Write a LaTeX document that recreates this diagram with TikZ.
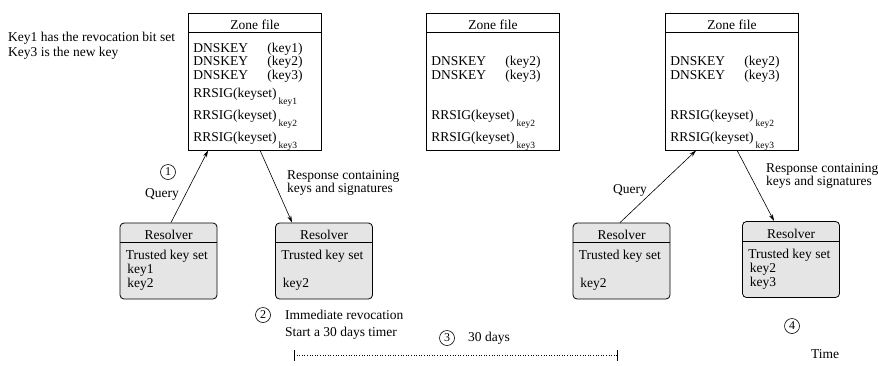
\documentclass[tikz,border=0pt]{standalone}
\usepackage{fontspec}
\setmainfont{Liberation Serif}
\usetikzlibrary{calc,arrows.meta}

\newcommand{\dnskey}[1]{\makebox[74pt][l]{DNSKEY}(#1)}
\newcommand{\rrsig}[1]{RRSIG(keyset)\hspace{2pt}\raisebox{-7pt}{\fontsize{9.5}{9.5}\selectfont #1}}

\tikzset{
  zonebox/.style={draw, line width=0.8pt, minimum width=133pt, minimum height=137pt, inner sep=0pt},
  resbox/.style={draw, line width=0.8pt, rounded corners=4pt, fill=black!10, minimum width=97pt, minimum height=76pt, inner sep=0pt},
  row/.style={anchor=base west, inner sep=0pt},
  numcircle/.style={draw, circle, line width=0.6pt, inner sep=0pt, minimum size=15pt, font=\fontsize{12}{12}\selectfont},
  msg/.style={->, line width=0.6pt},
}

\begin{document}
\begin{tikzpicture}[x=1pt,y=-1pt,>={Stealth[length=7pt,width=4pt]},font=\fontsize{13.5}{13.5}\selectfont]

    \useasboundingbox (0,0) rectangle (878,365);

    % Zone files
    \node[zonebox] (zone1) at (255,81.5) {};
    \node[zonebox] (zone2) at (493,81.5) {};
    \node[zonebox] (zone3) at (732,81.5) {};
    \foreach \z in {zone1,zone2,zone3}{
        \draw[line width=0.8pt] ([yshift=-20pt]\z.north west) -- ([yshift=-20pt]\z.north east);
        \node[anchor=base, inner sep=0pt] (\z-title) at ([yshift=-17pt]\z.north) {Zone file};
    }

    \node[row] (z1d1) at ([shift={(5,39.5)}]zone1.north west) {\dnskey{key1}};
    \node[row] (z1d2) at ([shift={(5,53)}]zone1.north west) {\dnskey{key2}};
    \node[row] (z1d3) at ([shift={(5,66.5)}]zone1.north west) {\dnskey{key3}};
    \node[row] (z1s1) at ([shift={(5,84.5)}]zone1.north west) {\rrsig{key1}};
    \node[row] (z1s2) at ([shift={(5,106.5)}]zone1.north west) {\rrsig{key2}};
    \node[row] (z1s3) at ([shift={(5,128.5)}]zone1.north west) {\rrsig{key3}};

    \node[row] (z2d2) at ([shift={(5,53)}]zone2.north west) {\dnskey{key2}};
    \node[row] (z2d3) at ([shift={(5,66.5)}]zone2.north west) {\dnskey{key3}};
    \node[row] (z2s2) at ([shift={(5,106.5)}]zone2.north west) {\rrsig{key2}};
    \node[row] (z2s3) at ([shift={(5,128.5)}]zone2.north west) {\rrsig{key3}};

    \node[row] (z3d2) at ([shift={(5,53)}]zone3.north west) {\dnskey{key2}};
    \node[row] (z3d3) at ([shift={(5,66.5)}]zone3.north west) {\dnskey{key3}};
    \node[row] (z3s2) at ([shift={(5,106.5)}]zone3.north west) {\rrsig{key2}};
    \node[row] (z3s3) at ([shift={(5,128.5)}]zone3.north west) {\rrsig{key3}};

    % Resolvers
    \node[resbox] (res1) at (168.5,261) {};
    \node[resbox] (res2) at (324,261) {};
    \node[resbox] (res3) at (621.5,261) {};
    \node[resbox] (res4) at (791,259.5) {};
    \foreach \r in {res1,res2,res3,res4}{
        \draw[line width=0.8pt] ([yshift=-20pt]\r.north west) -- ([yshift=-20pt]\r.north east);
        \node[anchor=base, inner sep=0pt] (\r-title) at ([yshift=-17pt]\r.north) {Resolver};
        \node[row] (\r-trust) at ([shift={(6,37)}]\r.north west) {Trusted key set};
    }
    \node[row] (r1k1) at ([shift={(7.5,51)}]res1.north west) {key1};
    \node[row] (r1k2) at ([shift={(7.5,65)}]res1.north west) {key2};
    \node[row] (r2k2) at ([shift={(7.5,65)}]res2.north west) {key2};
    \node[row] (r3k2) at ([shift={(7.5,65)}]res3.north west) {key2};
    \node[row] (r4k2) at ([shift={(7.5,51)}]res4.north west) {key2};
    \node[row] (r4k3) at ([shift={(7.5,65)}]res4.north west) {key3};

    % Queries and responses
    \draw[msg] ([xshift=2.5pt]res1.north) -- ([xshift=20pt]zone1.south west);
    \draw[msg] ([xshift=72pt]zone1.south west) -- ([xshift=17pt]res2.north west);
    \draw[msg] ([xshift=-1.5pt]res3.north) -- ([xshift=31pt]zone3.south west);
    \draw[msg] ([xshift=72pt]zone3.south west) -- ([xshift=32pt]res4.north west);

    \node (query1) at (162,194) {Query};
    \node (query2) at (630,190) {Query};
    \node[anchor=west, align=left, inner sep=0pt] (resp1) at (287,183) {Response containing\\keys and signatures};
    \node[anchor=west, align=left, inner sep=0pt] (resp2) at (766,176) {Response containing\\keys and signatures};

    % Notes
    \node[anchor=west, align=left, inner sep=0pt, font=\fontsize{13.5}{15}\selectfont] (note) at (8,45.5) {Key1 has the revocation bit set\\Key3 is the new key};
    \node[anchor=west, align=left, inner sep=0pt, font=\fontsize{13.5}{16.5}\selectfont] (revoke) at (285,325) {Immediate revocation\\Start a 30 days timer};
    \node[anchor=west, inner sep=0pt] (days) at (468,338) {30 days};
    \node (time) at (825,354) {Time};

    % Steps
    \node[numcircle] (step1) at (168,172) {1};
    \node[numcircle] (step2) at (263,315) {2};
    \node[numcircle] (step3) at (447,338) {3};
    \node[numcircle] (step4) at (792,326) {4};

    % Timer
    \coordinate (tstart) at (294,355);
    \coordinate (tend) at (617,355);
    \draw[dotted, line width=0.6pt] (tstart) -- (tend);
    \draw[line width=0.8pt] (tstart) ++(0,-5) -- ++(0,11) (tend) ++(0,-5) -- ++(0,11);
\end{tikzpicture}
\end{document}
